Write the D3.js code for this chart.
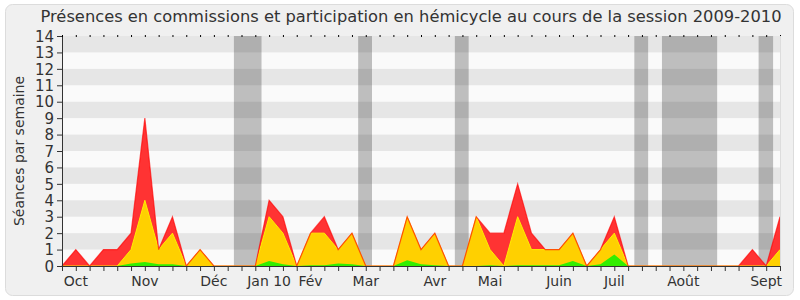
<!DOCTYPE html>
<html>
<head>
<meta charset="utf-8">
<script src="https://cdn.jsdelivr.net/npm/d3@7"></script>
<style>
  body { margin: 0; background: #fff; }
  text { font-family: "DejaVu Sans", sans-serif; }
</style>
</head>
<body>
<svg id="chart" width="800" height="300"></svg>
<script>
// ===== Data (one value per week, week 0 = start of Oct 2009) =====
const weeks = d3.range(53);
// total (red), commissions (yellow), green layer
const redVals = [0,1,0,1,1,2,9,1,3,0,1,0,0,0,0,4,3,0,2,3,1,2,0,0,0,3,1,2,0,0,3,2,2,5,2,1,1,2,0,1,3,0,0,0,0,0,0,0,0,0,1,0,3];
const yellowVals = [0,0,0,0,0,1,4,1,2,0,1,0,0,0,0,3,2,0,2,2,1,2,0,0,0,3,1,2,0,0,3,1,0,3,1,1,1,2,0,1,2,0,0,0,0,0,0,0,0,0,0,0,1];
const greenVals = [0,0,0,0,0,0.15,0.25,0.1,0.1,0,0,0,0,0,0,0.3,0.1,0,0.05,0.05,0.15,0.1,0,0,0,0.35,0.1,0.05,0,0,0,0.05,0,0.05,0.05,0.05,0.05,0.3,0,0.1,0.7,0,0,0,0,0,0,0,0,0,0,0,0];
// vacation weeks, as [from, to] in week units
const vacations = [[12.45, 14.45], [21.45, 22.45], [28.45, 29.45], [41.45, 42.45], [43.45, 47.45], [50.45, 51.5]];
// month labels and the week they sit on
const monthLabels = ["Oct", "Nov", "Déc", "Jan 10", "Fév", "Mar", "Avr", "Mai", "Juin", "Juil", "Août", "Sept"];
const monthWeeks = [1, 6, 11, 15, 18, 22, 27, 31, 36, 40, 45, 51];
const yTicks = d3.range(0, 15);

const title = "Présences en commissions et participation en hémicycle au cours de la session 2009-2010";

// ===== Layout =====
const svg = d3.select("#chart");
const plotL = 62, plotR = 780, plotT = 36, plotB = 266;

const x = d3.scaleLinear().domain([0, 52]).range([plotL, plotR]);
const y = d3.scaleLinear().domain([0, 14]).range([plotB, plotT]);

// outer rounded panel
svg.append("rect")
  .attr("x", 5.5).attr("y", 4.5).attr("width", 788).attr("height", 291)
  .attr("rx", 7)
  .attr("fill", "#f0f0f0").attr("stroke", "#dcdcdc");

// plot background
svg.append("rect")
  .attr("x", plotL).attr("y", plotT).attr("width", plotR - plotL).attr("height", plotB - plotT)
  .attr("fill", "#fafafa");

// vacation bands
svg.selectAll(".vac").data(vacations).join("rect")
  .attr("class", "vac")
  .attr("x", d => x(d[0]))
  .attr("width", d => x(d[1]) - x(d[0]))
  .attr("y", plotT).attr("height", plotB - plotT)
  .attr("fill", "#bebebe");

// horizontal stripes (odd units darker)
svg.selectAll(".stripe").data(yTicks.filter(v => v % 2 === 1)).join("rect")
  .attr("class", "stripe")
  .attr("x", plotL).attr("width", plotR - plotL)
  .attr("y", d => y(d + 1)).attr("height", d => y(d) - y(d + 1))
  .attr("fill", "#000").attr("fill-opacity", 0.08);

// ===== Areas =====
function area(vals) {
  return d3.area()
    .x(d => x(d))
    .y0(y(0))
    .y1(d => y(vals[d]));
}
function line(vals) {
  return d3.line().x(d => x(d)).y(d => y(vals[d]));
}

svg.append("path").datum(weeks)
  .attr("d", area(redVals))
  .attr("fill", "#ff3333");

svg.append("path").datum(weeks)
  .attr("d", area(yellowVals))
  .attr("fill", "#ffd000");
svg.append("path").datum(weeks)
  .attr("d", line(yellowVals))
  .attr("fill", "none").attr("stroke", "#ffee00").attr("stroke-width", 1);

svg.append("path").datum(weeks)
  .attr("d", area(greenVals))
  .attr("fill", "#33ee00");

// red outline on top, half see-through so it turns orange over yellow
svg.append("path").datum(weeks)
  .attr("d", line(redVals))
  .attr("fill", "none").attr("stroke", "#ff0000").attr("stroke-opacity", 0.65).attr("stroke-width", 1.2);

// ===== Axes =====
const yAxis = svg.append("g")
  .attr("transform", `translate(${plotL},0)`)
  .call(d3.axisLeft(y).tickValues(yTicks).tickSize(5).tickFormat(d3.format("d")));
yAxis.select(".domain").attr("stroke", "#333");
yAxis.selectAll(".tick line").attr("stroke", "#333");
yAxis.selectAll("text")
  .attr("font-size", 15).attr("fill", "#333")
  .attr("font-family", "DejaVu Sans, sans-serif")
  .attr("dy", "0.35em");

const xAxis = svg.append("g")
  .attr("transform", `translate(0,${plotB})`)
  .call(d3.axisBottom(x).tickValues(weeks).tickSize(5).tickSizeOuter(0).tickFormat(""));
xAxis.select(".domain").attr("stroke", "#333");
xAxis.selectAll(".tick line").attr("stroke", "#333");

// small ticks along the top edge
svg.append("g")
  .attr("transform", `translate(0,${plotT})`)
  .call(d3.axisTop(x).tickValues(weeks).tickSize(2).tickFormat(""))
  .call(g => g.select(".domain").remove())
  .selectAll(".tick line").attr("stroke", "#000").attr("transform", "translate(0,1)");

// month labels
svg.selectAll(".month").data(monthLabels).join("text")
  .attr("class", "month")
  .attr("x", (d, i) => x(monthWeeks[i]))
  .attr("y", 286)
  .attr("text-anchor", "middle")
  .attr("font-size", 14)
  .attr("fill", "#333")
  .text(d => d);

// right edge line
svg.append("line")
  .attr("x1", plotR + 0.5).attr("x2", plotR + 0.5).attr("y1", plotT).attr("y2", plotB)
  .attr("stroke", "#dddddd");

// ===== Titles =====
svg.append("text")
  .attr("x", 411).attr("y", 22)
  .attr("text-anchor", "middle")
  .attr("font-size", 16.3)
  .attr("fill", "#333")
  .text(title);

svg.append("text")
  .attr("transform", "rotate(-90)")
  .attr("x", -(plotT + plotB) / 2)
  .attr("y", 24)
  .attr("text-anchor", "middle")
  .attr("font-size", 14)
  .attr("fill", "#333")
  .text("Séances par semaine");
</script>
</body>
</html>
